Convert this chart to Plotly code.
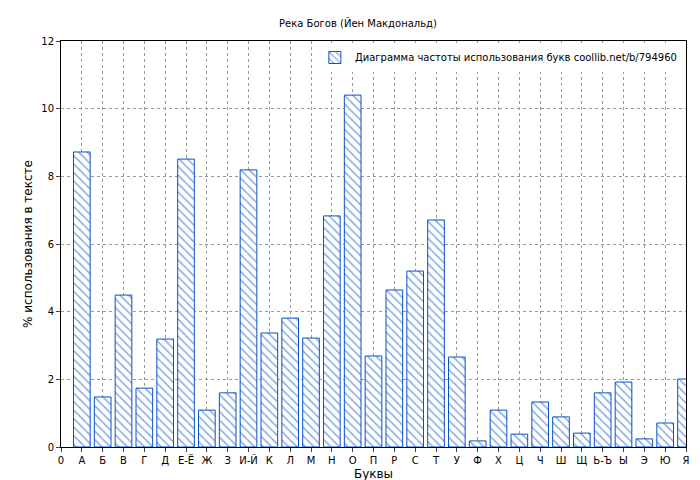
import plotly.graph_objects as go

cats = ["0","А","Б","В","Г","Д","Е-Ё","Ж","З","И-Й","К","Л","М","Н","О","П","Р","С","Т","У","Ф","Х","Ц","Ч","Ш","Щ","Ь-Ъ","Ы","Э","Ю","Я"]
vals = [0,8.72,1.48,4.49,1.74,3.19,8.51,1.09,1.60,8.19,3.37,3.81,3.22,6.83,10.40,2.69,4.64,5.20,6.71,2.66,0.18,1.09,0.38,1.33,0.89,0.41,1.60,1.92,0.24,0.71,2.01]

xs = list(range(len(cats)))
fig = go.Figure(go.Bar(
    x=xs[1:], y=vals[1:], width=0.8,
    name="Диаграмма частоты использования букв coollib.net/b/794960",
    marker=dict(color="white", line=dict(color="#0a50c8", width=1),
                pattern=dict(shape="\\", fgcolor="#0a50c8", bgcolor="white", size=6, solidity=0.25)),
))
fig.update_layout(
    width=700, height=480, plot_bgcolor="white", paper_bgcolor="white",
    margin=dict(l=53, r=22, t=33, b=41, autoexpand=False),
    font=dict(family="DejaVu Sans", size=10, color="black"),
    title=dict(text="Река Богов (Йен Макдональд)", x=0.5, y=0.975, xanchor="center", font=dict(size=10)),
    showlegend=True,
    legend=dict(x=0.995, y=0.995, xanchor="right", yanchor="top", bgcolor="white", font=dict(size=10)),
    bargap=0.2,
)
fig.update_xaxes(tickmode="array", tickvals=xs, ticktext=cats, range=[0, 30], automargin=False,
                 showgrid=True, gridcolor="#999", griddash="dot", mirror=True, showline=True,
                 linecolor="black", ticks="outside", ticklen=4, title=dict(text="Буквы", standoff=4))
fig.update_yaxes(range=[0, 12], dtick=2, showgrid=True, gridcolor="#999", griddash="dot", automargin=False,
                 mirror=True, showline=True, linecolor="black", ticks="outside", ticklen=4,
                 zeroline=False, title=dict(text="% использования в тексте", standoff=6))
fig.write_html("out.html")
